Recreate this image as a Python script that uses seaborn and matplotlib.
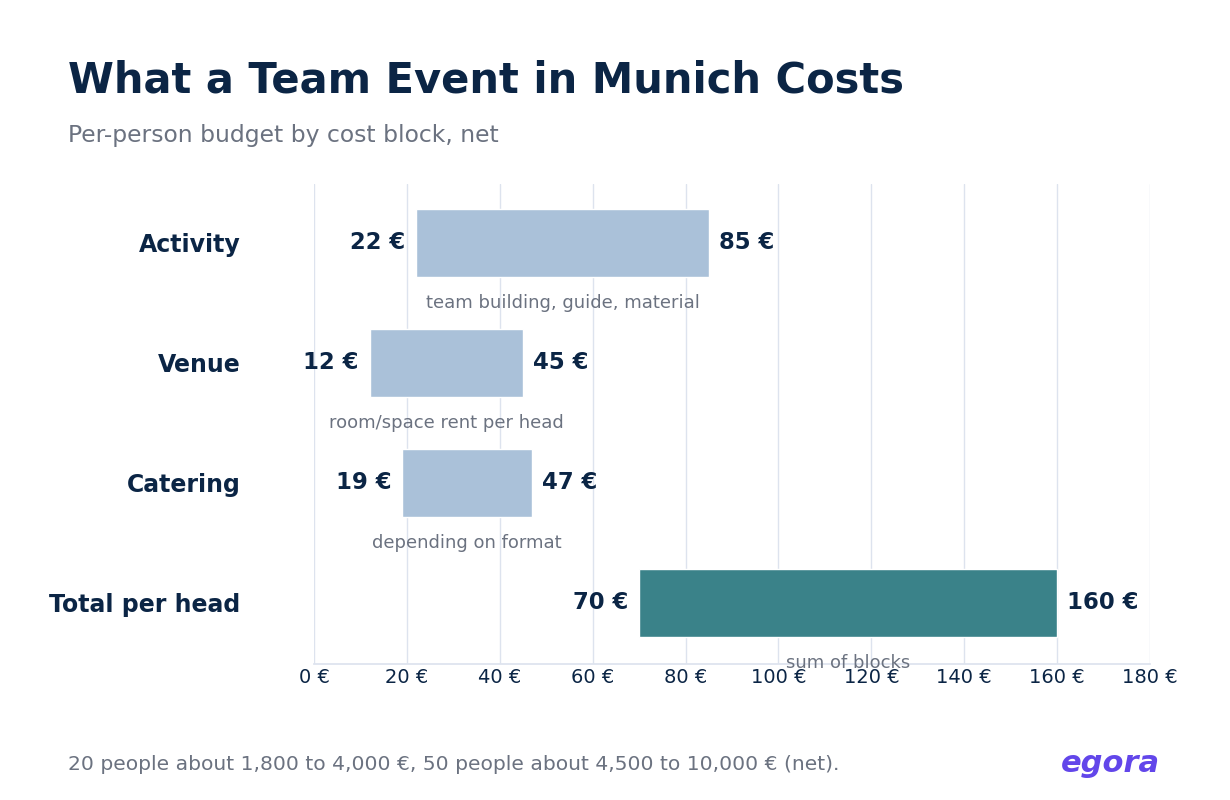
import seaborn as sns
import matplotlib.pyplot as plt
import pandas as pd

# cost blocks, per person, net (EUR)
categories = ['Activity', 'Venue', 'Catering', 'Total per head']
low_values = [22, 12, 19, 70]
high_values = [85, 45, 47, 160]
notes = ['team building, guide, material', 'room/space rent per head',
         'depending on format', 'sum of blocks']
x_ticks = [0, 20, 40, 60, 80, 100, 120, 140, 160, 180]

df = pd.DataFrame({'category': categories, 'low': low_values,
                   'high': high_values, 'note': notes})
df['span'] = df['high'] - df['low']

navy = '#0b2545'
gray = '#6b7280'
light_bar = '#aac1d9'
total_bar = '#3a8289'

sns.set_theme(style='white')
plt.rcParams['font.family'] = ['DejaVu Sans']

fig = plt.figure(figsize=(12.3, 8), dpi=100)
ax = fig.add_axes([0.2553, 0.17, 0.6797, 0.6])

sns.barplot(data=df, x='span', y='category', left=df['low'], orient='h',
            color=light_bar, saturation=1, width=0.57, edgecolor='white',
            linewidth=1, ax=ax, zorder=3)
ax.patches[-1].set_facecolor(total_bar)

ax.set_xlim(0, 180)
ax.set_ylim(3.51, -0.49)
ax.set_xticks(x_ticks)
ax.set_xticklabels([f'{v} €' for v in x_ticks], fontsize=14, color=navy)
ax.tick_params(axis='x', length=0, pad=3)
ax.set_yticks(range(len(categories)))
ax.set_yticklabels(categories, fontsize=17, fontweight='bold', color=navy)
ax.tick_params(axis='y', length=0, pad=53)
ax.set_xlabel('')
ax.set_ylabel('')
ax.grid(axis='x', color='#dde3ee', linewidth=1, zorder=0)
for side in ['top', 'right', 'left']:
    ax.spines[side].set_visible(False)
ax.spines['bottom'].set_color('#dde3ee')

for i, row in df.iterrows():
    ax.annotate(f"{row['low']} €", (row['low'], i), xytext=(-8, 0),
                textcoords='offset points', ha='right', va='center',
                fontsize=16.4, fontweight='bold', color=navy)
    ax.annotate(f"{row['high']} €", (row['high'], i), xytext=(7, 0),
                textcoords='offset points', ha='left', va='center',
                fontsize=16.4, fontweight='bold', color=navy)
    ax.annotate(row['note'], ((row['low'] + row['high']) / 2, i),
                xytext=(0, -43), textcoords='offset points', ha='center',
                va='center', fontsize=13, color=gray, zorder=5)

fig.text(0.0553, 0.899, 'What a Team Event in Munich Costs', fontsize=30,
         fontweight='bold', color=navy, va='center')
fig.text(0.0553, 0.831, 'Per-person budget by cost block, net', fontsize=16.9,
         color=gray, va='center')
fig.text(0.0553, 0.045,
         '20 people about 1,800 to 4,000 €, 50 people about 4,500 to 10,000 € (net).',
         fontsize=14.6, color=gray, va='center')
fig.text(0.943, 0.046, 'egora', fontsize=22, fontweight='bold',
         fontstyle='italic', color='#6246ea', ha='right', va='center')

fig.savefig('out.png', dpi=100)
plt.close(fig)
